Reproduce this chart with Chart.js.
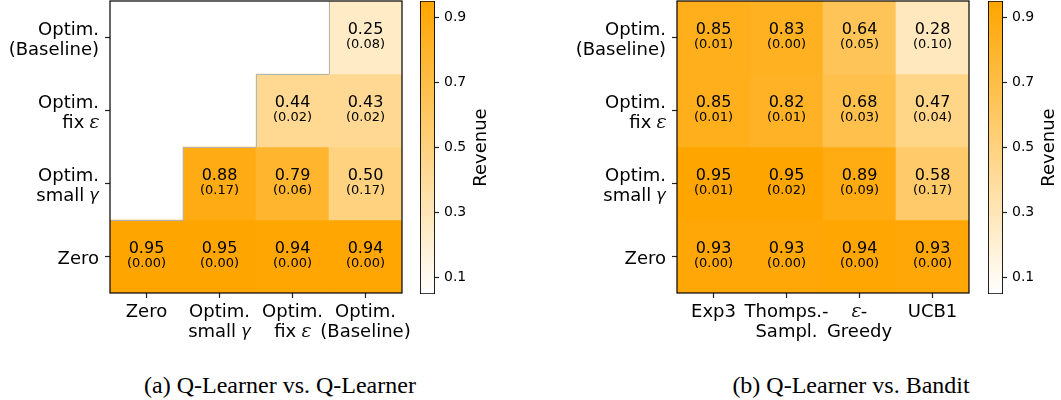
<!DOCTYPE html>
<html>
<head>
<meta charset="utf-8">
<script src="https://cdn.jsdelivr.net/npm/chart.js@4.4.1/dist/chart.umd.min.js"></script>
<style>
  html, body { margin: 0; padding: 0; background: #fff; }
  #page { position: relative; width: 1061px; height: 400px; overflow: hidden; }
  canvas { position: absolute; }
  .caption {
    position: absolute; top: 370px; width: 400px; text-align: center;
    font-family: "Liberation Serif", "Times New Roman", serif; font-size: 24px; color: #000;
    line-height: 30px;
  }
</style>
</head>
<body>
<div id="page">
  <canvas id="heatA" width="422" height="393" style="left:0px; top:-40px;"></canvas>
  <canvas id="barA" width="80" height="334" style="left:415px; top:-20px;"></canvas>
  <canvas id="heatB" width="422" height="393" style="left:567px; top:-40px;"></canvas>
  <canvas id="barB" width="80" height="334" style="left:983px; top:-20px;"></canvas>
  <div class="caption" style="left:80px;">(a) Q-Learner vs. Q-Learner</div>
  <div class="caption" style="left:651px;">(b) Q-Learner vs. Bandit</div>
</div>
<script>
// rows are listed top to bottom, as in the picture
const rowLabels = [['Optim.', '(Baseline)'], ['Optim.', 'fix 𝜀'], ['Optim.', 'small 𝛾'], ['Zero']];

// (a) Q-Learner vs. Q-Learner
const colsA = [['Zero'], ['Optim.', 'small 𝛾'], ['Optim.', 'fix 𝜀'], ['Optim.', '(Baseline)']];
const meansA = [
    [null, null, null, 0.25],
    [null, null, 0.44, 0.43],
    [null, 0.88, 0.79, 0.50],
    [0.95, 0.95, 0.94, 0.94]
];
const stdsA = [
    [null, null, null, 0.08],
    [null, null, 0.02, 0.02],
    [null, 0.17, 0.06, 0.17],
    [0.00, 0.00, 0.00, 0.00]
];

// (b) Q-Learner vs. Bandit
const colsB = [['Exp3'], ['Thomps.-', 'Sampl.'], ['𝜀-', 'Greedy'], ['UCB1']];
const meansB = [
    [0.85, 0.83, 0.64, 0.28],
    [0.85, 0.82, 0.68, 0.47],
    [0.95, 0.95, 0.89, 0.58],
    [0.93, 0.93, 0.94, 0.93]
];
const stdsB = [
    [0.01, 0.00, 0.05, 0.10],
    [0.01, 0.01, 0.03, 0.04],
    [0.01, 0.02, 0.09, 0.17],
    [0.00, 0.00, 0.00, 0.00]
];

// colour bar
const cbarMin = 0.05;
const cbarMax = 0.95;
const cbarTicks = [0.1, 0.3, 0.5, 0.7, 0.9];
const cbarLabel = 'Revenue';

Chart.defaults.font.family = 'DejaVu Sans';
Chart.defaults.color = '#000';
Chart.defaults.animation = false;

function cmap(v) {
    const t = Math.max(0, Math.min(1, (v - cbarMin) / (cbarMax - cbarMin)));
    const g = Math.round(255 - 90 * t);
    const b = Math.round(255 - 255 * t);
    return `rgb(255,${g},${b})`;
}

const framePlugin = {
    id: 'frame',
    afterDraw(chart) {
        const a = chart.chartArea;
        const ctx = chart.ctx;
        ctx.save();
        ctx.strokeStyle = '#000';
        ctx.lineWidth = 1.2;
        ctx.strokeRect(a.left, a.top, a.right - a.left, a.bottom - a.top);
        ctx.restore();
    }
};

// values in the cells, plus the thin grey edge where a cell meets a masked one
const cellTextPlugin = {
    id: 'cellText',
    afterDatasetsDraw(chart, args, opts) {
        const ctx = chart.ctx;
        const means = opts.means;
        ctx.save();
        chart.data.datasets.forEach((ds, i) => {
            const meta = chart.getDatasetMeta(i);
            meta.data.forEach((bar, j) => {
                const m = means[i][j];
                if (m === null) return;
                const top = Math.min(bar.y, bar.base);
                const bottom = Math.max(bar.y, bar.base);
                const left = bar.x - bar.width / 2;
                const right = bar.x + bar.width / 2;
                ctx.strokeStyle = '#b4b4b4';
                ctx.lineWidth = 1;
                if (i > 0 && means[i - 1][j] === null) {
                    ctx.beginPath(); ctx.moveTo(left, top + 0.5); ctx.lineTo(right, top + 0.5); ctx.stroke();
                }
                if (j > 0 && means[i][j - 1] === null) {
                    ctx.beginPath(); ctx.moveTo(left + 0.5, top); ctx.lineTo(left + 0.5, bottom); ctx.stroke();
                }
                const cy = (top + bottom) / 2;
                ctx.fillStyle = '#000';
                ctx.textAlign = 'center';
                ctx.textBaseline = 'middle';
                ctx.font = '16px "DejaVu Sans"';
                ctx.fillText(m.toFixed(2), bar.x, cy - 8);
                ctx.font = '13px "DejaVu Sans"';
                ctx.fillText('(' + opts.stds[i][j].toFixed(2) + ')', bar.x, cy + 7);
            });
        });
        ctx.restore();
    }
};

function createHeatmap(id, cols, means, stds) {
    const datasets = means.map((row, r) => ({
        data: row.map(v => (v === null ? null : [r, r + 1])),
        backgroundColor: row.map(v => (v === null ? 'rgba(0,0,0,0)' : cmap(v))),
        borderWidth: 0,
        barPercentage: 1,
        categoryPercentage: 1,
        grouped: false
    }));

    return new Chart(document.getElementById(id), {
        type: 'bar',
        data: { labels: cols, datasets },
        options: {
            responsive: false,
            layout: { padding: { top: 41, right: 20, bottom: 0, left: 0 } },
            plugins: {
                legend: { display: false },
                tooltip: { enabled: false },
                cellText: { means, stds }
            },
            scales: {
                x: {
                    offset: true,
                    border: { display: false },
                    grid: { offset: false, drawOnChartArea: false, tickLength: 5, tickColor: '#222', tickWidth: 1.2 },
                    ticks: {
                        autoSkip: false, maxRotation: 0, minRotation: 0, padding: 4,
                        font: { size: 18, lineHeight: 1.12 }
                    },
                    afterFit(scale) { scale.height = 60; }
                },
                y: {
                    min: 0,
                    max: 4,
                    reverse: true,
                    border: { display: false },
                    grid: { offset: false, drawOnChartArea: false, tickLength: 5, tickColor: '#222', tickWidth: 1.2 },
                    afterBuildTicks(scale) {
                        scale.ticks = rowLabels.map((l, i) => ({ value: i + 0.5 }));
                    },
                    ticks: {
                        padding: 6,
                        labelOffset: 3,
                        font: { size: 18, lineHeight: 1.12 },
                        callback: v => rowLabels[Math.floor(v)]
                    },
                    afterFit(scale) { scale.width = 110; }
                }
            }
        },
        plugins: [cellTextPlugin, framePlugin]
    });
}

const cbarTitlePlugin = {
    id: 'cbarTitle',
    afterDraw(chart) {
        const a = chart.chartArea;
        const ctx = chart.ctx;
        ctx.save();
        ctx.translate(a.right + 46, (a.top + a.bottom) / 2);
        ctx.rotate(-Math.PI / 2);
        ctx.fillStyle = '#000';
        ctx.font = '18px "DejaVu Sans"';
        ctx.textAlign = 'center';
        ctx.textBaseline = 'middle';
        ctx.fillText(cbarLabel, 0, 0);
        ctx.restore();
    }
};

function createColorbar(id) {
    return new Chart(document.getElementById(id), {
        type: 'bar',
        data: {
            labels: [''],
            datasets: [{
                data: [[cbarMin, cbarMax]],
                backgroundColor(c) {
                    const a = c.chart.chartArea;
                    if (!a) return cmap(0.5);
                    const y = c.chart.scales.y;
                    const g = c.chart.ctx.createLinearGradient(0, y.getPixelForValue(cbarMin), 0, y.getPixelForValue(cbarMax));
                    g.addColorStop(0, cmap(cbarMin));
                    g.addColorStop(1, cmap(cbarMax));
                    return g;
                },
                borderColor: '#000',
                borderWidth: 1.2,
                borderSkipped: false,
                barPercentage: 1,
                categoryPercentage: 1
            }]
        },
        options: {
            responsive: false,
            layout: { padding: { top: 21, right: 0, bottom: 20, left: 5 } },
            plugins: { legend: { display: false }, tooltip: { enabled: false } },
            scales: {
                x: { display: false },
                y: {
                    position: 'right',
                    min: cbarMin,
                    max: cbarMax,
                    border: { display: false },
                    grid: { drawOnChartArea: false, tickLength: 4, tickColor: '#222', tickWidth: 1.2 },
                    afterBuildTicks(scale) {
                        scale.ticks = cbarTicks.map(v => ({ value: v }));
                    },
                    ticks: {
                        padding: 5,
                        font: { size: 14 },
                        callback: v => v.toFixed(1)
                    },
                    afterFit(scale) { scale.width = 60; }
                }
            }
        },
        plugins: [cbarTitlePlugin]
    });
}

createHeatmap('heatA', colsA, meansA, stdsA);
createHeatmap('heatB', colsB, meansB, stdsB);
createColorbar('barA');
createColorbar('barB');
</script>
</body>
</html>
